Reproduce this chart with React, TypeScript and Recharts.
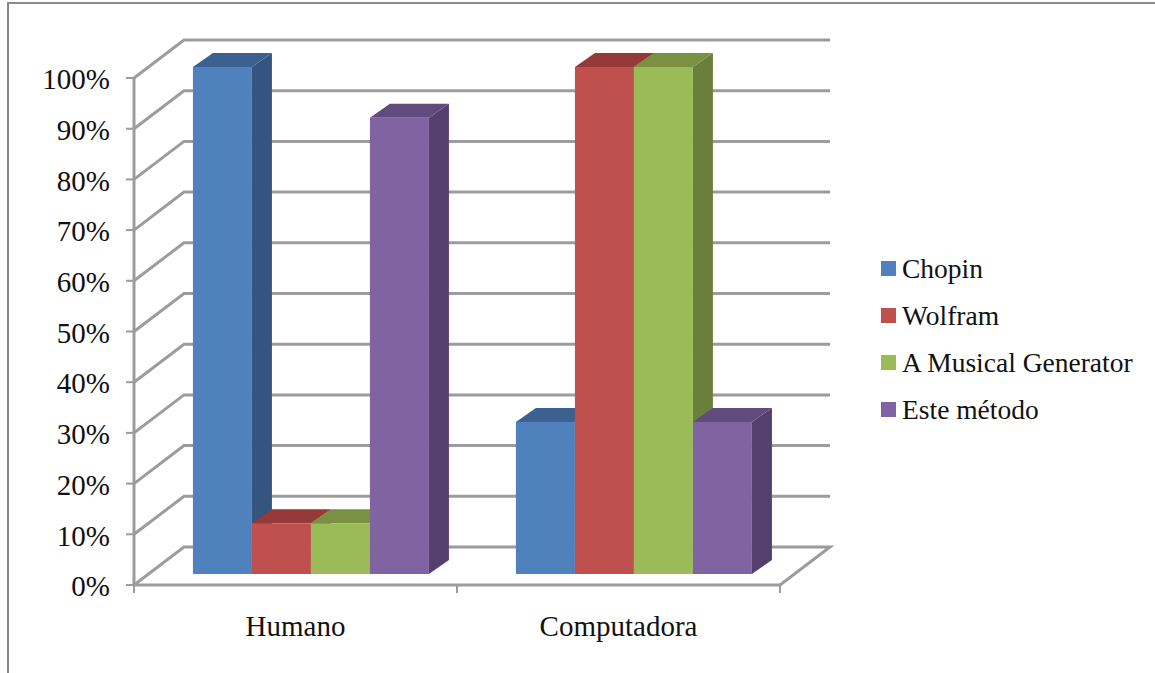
import { BarChart, Bar, XAxis, YAxis, CartesianGrid, Legend } from 'recharts'

const categories = ['Humano', 'Computadora']
const chopin = [1, 0.3]
const wolfram = [0.1, 1]
const musical = [0.1, 1]
const metodo = [0.9, 0.3]
const yTicks = [0, 0.1, 0.2, 0.3, 0.4, 0.5, 0.6, 0.7, 0.8, 0.9, 1]
const frameTicks = [0, 1, 2]

const data = categories.map((name, i) => ({
  name,
  Chopin: chopin[i],
  Wolfram: wolfram[i],
  'A Musical Generator': musical[i],
  'Este método': metodo[i],
}))

const FONT = '"Liberation Serif", serif'
const GRID = '#9c9c9c'

// depth of the back wall, and where the bars stand on the floor
const WALL_DX = 50
const WALL_DY = -38
const BAR_DX = 15
const BAR_DY = -11
const DEPTH_DX = 20
const DEPTH_DY = -14

const darker: Record<string, { top: string; side: string }> = {
  '#4f81bd': { top: '#3c6090', side: '#34557f' },
  '#c0504d': { top: '#953a38', side: '#7f3533' },
  '#9bbb59': { top: '#7a9142', side: '#6b7f3c' },
  '#8064a2': { top: '#604a7e', side: '#553f6e' },
}

function Bar3D(props: any) {
  const { x, y, width, height, fill } = props
  const fx = x + BAR_DX
  const fy = y + BAR_DY
  const { top, side } = darker[fill]
  const bx = fx + DEPTH_DX
  const by = fy + DEPTH_DY
  return (
    <g>
      <polygon
        points={`${fx + width},${fy} ${bx + width},${by} ${bx + width},${by + height} ${fx + width},${fy + height}`}
        fill={side}
      />
      <polygon points={`${fx},${fy} ${bx},${by} ${bx + width},${by} ${fx + width},${fy}`} fill={top} />
      <rect x={fx} y={fy} width={width} height={height} fill={fill} />
    </g>
  )
}

function WallLine(props: any) {
  const { x1, x2, y1, index } = props
  const by = y1 + WALL_DY
  // the lowest line also closes the floor on the right
  const pts = index === 0
    ? `${x1},${y1} ${x1 + WALL_DX},${by} ${x2 + WALL_DX},${by} ${x2},${y1}`
    : `${x1},${y1} ${x1 + WALL_DX},${by} ${x2 + WALL_DX},${by}`
  return <polyline points={pts} fill="none" stroke={GRID} strokeWidth={3} />
}

function LegendBox(props: any) {
  return (
    <div style={{ fontFamily: FONT, fontSize: 27.5, color: '#111' }}>
      {props.payload.map((item: any) => (
        <div key={item.value} style={{ display: 'flex', alignItems: 'center', height: 47 }}>
          <span style={{ width: 15, height: 15, background: item.color, marginRight: 6 }} />
          <span style={{ whiteSpace: 'nowrap' }}>{item.value}</span>
        </div>
      ))}
    </div>
  )
}

export default function App() {
  return (
    <div style={{ position: 'absolute', left: 0, top: 0, width: 1155, height: 673, overflow: 'hidden', background: '#fff' }}>
      <div
        style={{
          position: 'absolute',
          left: 7,
          top: 2,
          width: 1150,
          height: 680,
          borderTop: '2px solid #8a8a8a',
          borderLeft: '2px solid #8a8a8a',
        }}
      />
      <BarChart
        width={1155}
        height={673}
        data={data}
        margin={{ top: 78, right: 375, bottom: 28, left: 0 }}
        barCategoryGap="13.6%"
        barGap={0}
        style={{ position: 'absolute', left: 0, top: 0 }}
      >
        <CartesianGrid vertical={false} horizontal={(p: any) => <WallLine key={p.y1} {...p} />} />
        <XAxis
          xAxisId="axis"
          type="number"
          dataKey={() => 0}
          domain={[0, 2]}
          ticks={frameTicks}
          tickFormatter={() => ''}
          height={20}
          tickSize={8}
          axisLine={{ stroke: GRID, strokeWidth: 3 }}
          tickLine={{ stroke: GRID, strokeWidth: 2 }}
        />
        <XAxis
          xAxisId="cat"
          dataKey="name"
          height={40}
          tickSize={0}
          tickMargin={10}
          axisLine={false}
          tick={{ fontFamily: FONT, fontSize: 29, fill: '#111' }}
        />
        <YAxis
          width={134}
          domain={[0, 1]}
          ticks={yTicks}
          interval={0}
          tickFormatter={(v: number) => `${Math.round(v * 100)}%`}
          tickSize={8}
          tickMargin={16}
          axisLine={{ stroke: GRID, strokeWidth: 3 }}
          tickLine={{ stroke: GRID, strokeWidth: 2 }}
          tick={{ fontFamily: FONT, fontSize: 29, fill: '#111', dy: 1 }}
        />
        <Legend
          layout="vertical"
          align="center"
          verticalAlign="middle"
          itemSorter={null}
          content={<LegendBox />}
          wrapperStyle={{ left: 881, top: 245, width: 270 }}
        />
        <Bar xAxisId="cat" dataKey="Chopin" fill="#4f81bd" shape={<Bar3D />} isAnimationActive={false} />
        <Bar xAxisId="cat" dataKey="Wolfram" fill="#c0504d" shape={<Bar3D />} isAnimationActive={false} />
        <Bar xAxisId="cat" dataKey="A Musical Generator" fill="#9bbb59" shape={<Bar3D />} isAnimationActive={false} />
        <Bar xAxisId="cat" dataKey="Este método" fill="#8064a2" shape={<Bar3D />} isAnimationActive={false} />
      </BarChart>
    </div>
  )
}
